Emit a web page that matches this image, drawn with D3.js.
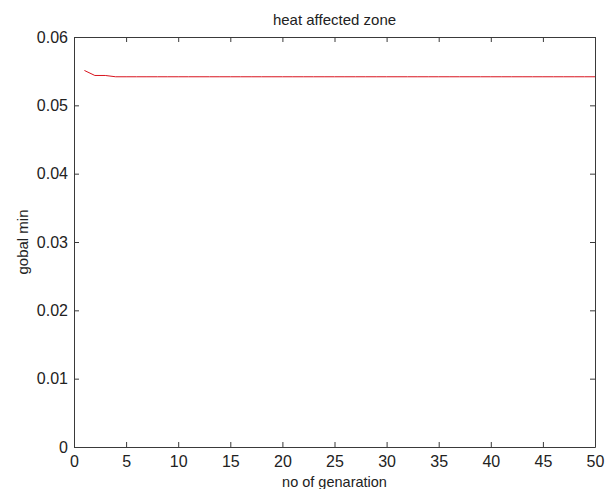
<!DOCTYPE html>
<html>
<head>
<meta charset="utf-8">
<script src="https://cdn.jsdelivr.net/npm/d3@7"></script>
<style>
  body { margin: 0; background: #fff; }
  text { font-family: "Liberation Sans", Arial, sans-serif; fill: #222; }
</style>
</head>
<body>
<div id="chart"></div>
<script>
// data
const generations = d3.range(1, 51)
const globalMin = [0.0551, 0.05437, 0.05437].concat(d3.range(47).map(() => 0.05418))
const xTicks = [0, 5, 10, 15, 20, 25, 30, 35, 40, 45, 50]
const yTicks = [0, 0.01, 0.02, 0.03, 0.04, 0.05, 0.06]

const width = 608
const height = 489
const margins = { top: 37, bottom: 42, left: 74, right: 13 }

const xScale = d3.scaleLinear()
    .domain([0, 50])
    .range([margins.left, width - margins.right])
const yScale = d3.scaleLinear()
    .domain([0, 0.06])
    .range([height - margins.bottom, margins.top])

const svg = d3.select("#chart")
    .append("svg")
    .attr("width", width)
    .attr("height", height)

//axes, ticks pointing inward like matlab
const tick = 5
const fmt = d => d === 0 ? "0" : d3.format(".2f")(d)
svg.append("g")
    .attr("transform", `translate(0,${height - margins.bottom})`)
    .call(d3.axisBottom(xScale).tickValues(xTicks).tickSizeInner(-tick).tickSizeOuter(0).tickPadding(9))
svg.append("g")
    .attr("transform", `translate(0,${margins.top})`)
    .call(d3.axisTop(xScale).tickValues(xTicks).tickSizeInner(-tick).tickSizeOuter(0).tickFormat(""))
svg.append("g")
    .attr("transform", `translate(${margins.left},0)`)
    .call(d3.axisLeft(yScale).tickValues(yTicks).tickSizeInner(-tick).tickSizeOuter(0).tickPadding(6).tickFormat(fmt))
svg.append("g")
    .attr("transform", `translate(${width - margins.right},0)`)
    .call(d3.axisRight(yScale).tickValues(yTicks).tickSizeInner(-tick).tickSizeOuter(0).tickFormat(""))

svg.selectAll(".domain, .tick line").attr("stroke", "#3a3a3a")
svg.selectAll(".tick text")
    .style("font-size", "16px")
    .style("font-family", "Liberation Sans, Arial, sans-serif")
    .attr("fill", "#222")

//line
const line = d3.line()
    .x((d, i) => xScale(generations[i]))
    .y(d => yScale(d))
svg.append("path")
    .datum(globalMin)
    .attr("fill", "none")
    .attr("stroke", "#d8141e")
    .attr("stroke-width", 1)
    .attr("d", line)

//labels
svg.append("text")
    .attr("x", (margins.left + width - margins.right) / 2)
    .attr("y", 25)
    .attr("text-anchor", "middle")
    .style("font-size", "15px")
    .text("heat affected zone")
svg.append("text")
    .attr("x", (margins.left + width - margins.right) / 2)
    .attr("y", 487)
    .attr("text-anchor", "middle")
    .style("font-size", "14.5px")
    .text("no of genaration")
svg.append("text")
    .attr("transform", `translate(28,${(margins.top + height - margins.bottom) / 2}) rotate(-90)`)
    .attr("text-anchor", "middle")
    .style("font-size", "15px")
    .text("gobal min")
</script>
</body>
</html>
